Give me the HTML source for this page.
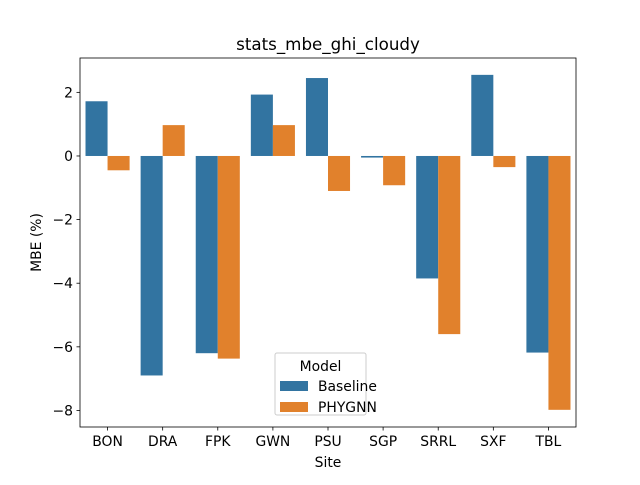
<!DOCTYPE html>
<html><head><meta charset="utf-8"><style>body{margin:0;background:#fff}svg{font-family:"DejaVu Sans","Liberation Sans",sans-serif}</style></head>
<body>
<svg id="c" width="640" height="480" xmlns="http://www.w3.org/2000/svg"></svg>
<script>
const categories=["BON","DRA","FPK","GWN","PSU","SGP","SRRL","SXF","TBL"];
const baseline=[1.72,-6.9,-6.2,1.93,2.45,-0.05,-3.85,2.55,-6.18];
const phygnn=[-0.45,0.97,-6.37,0.97,-1.1,-0.92,-5.6,-0.35,-7.98];
const yTicks=[2,0,-2,-4,-6,-8];
const L=80,R=576,T=58,B=427,yMax=3.08,yMin=-8.52;
const NS="http://www.w3.org/2000/svg";
const svg=document.getElementById('c');
function y(v){return T+(yMax-v)/(yMax-yMin)*(B-T);}
const bw=(R-L)/categories.length;
function xc(i){return L+bw*(i+0.5);}
function el(t,a,txt){const e=document.createElementNS(NS,t);for(const k in a)e.setAttribute(k,a[k]);if(txt!==undefined)e.textContent=txt;svg.appendChild(e);return e;}
const colors=["#3274a1","#e1812c"];
[baseline,phygnn].forEach((s,si)=>{s.forEach((v,i)=>{
 const x=xc(i)-bw*0.4+si*bw*0.4;
 const r=el('rect',{x:x,y:Math.min(y(v),y(0)),width:bw*0.4,height:Math.abs(y(v)-y(0)),fill:colors[si]});
 
 
});});
const ax=el('rect',{x:L,y:T,width:R-L,height:B-T,fill:'none',stroke:'#000','stroke-width':0.8});

yTicks.forEach(t=>{const yy=y(t);
 el('line',{x1:L-3.5,x2:L,y1:yy,y2:yy,stroke:'#000','stroke-width':0.8});
 const tx=el('text',{x:L-7,y:yy+5,'text-anchor':'end','font-size':13.9},t<0?'\u2212'+(-t):String(t));
 
});
categories.forEach((c,i)=>{const xx=xc(i);
 el('line',{x1:xx,x2:xx,y1:B,y2:B+3.5,stroke:'#000','stroke-width':0.8});
 const tx=el('text',{x:xx,y:B+19,'text-anchor':'middle','font-size':13.9},c);
 
});
let t=el('text',{x:(L+R)/2,y:50,'text-anchor':'middle','font-size':16.7},'stats_mbe_ghi_cloudy');

t=el('text',{x:(L+R)/2,y:467,'text-anchor':'middle','font-size':13.9},'Site');

t=el('text',{x:41,y:(T+B)/2,'text-anchor':'middle','font-size':13.9,transform:'rotate(-90 41 '+(T+B)/2+')'},'MBE (%)');

const lg=el('rect',{x:275,y:353,width:91,height:62,fill:'#fff','fill-opacity':0.8,stroke:'#ccc',rx:2});

t=el('text',{x:320.5,y:371,'text-anchor':'middle','font-size':13.9},'Model');

["Baseline","PHYGNN"].forEach((n,i)=>{
 const r=el('rect',{x:280,y:381+i*21,width:28,height:10,fill:colors[i]});
 
 const tx=el('text',{x:318,y:391+i*21,'font-size':13.9},n);
 
});
</script>
</body></html>
